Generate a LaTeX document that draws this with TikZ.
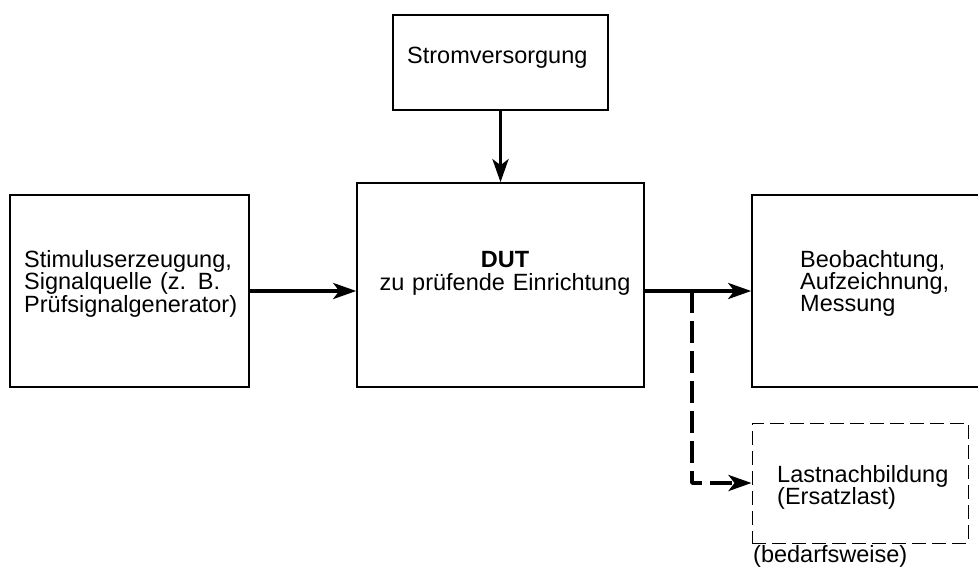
\documentclass[tikz,border=0pt]{standalone}
\usepackage{fontspec}
\setmainfont{Liberation Sans}
\usetikzlibrary{arrows.meta}
\begin{document}
\begin{tikzpicture}[x=1pt,y=-1pt,
  box/.style={draw, line width=1.6pt, rectangle, inner sep=0pt},
  dbox/.style={draw, line width=1pt, rectangle, inner sep=0pt, dash pattern=on 14pt off 6pt},
  lbl/.style={inner sep=0pt, font=\fontsize{23.5}{20.5}\selectfont},
  arr/.style={line width=3.6pt, -{Stealth[length=23pt,width=16pt,inset=6pt]}},
  darr/.style={arr, dash pattern=on 22pt off 8pt, line join=round}]
\useasboundingbox (0,0) rectangle (978,568);
\clip (0,0) rectangle (978,568);
% boxes
\node[box, minimum width=239pt, minimum height=192pt] (src) at (129.5,291) {};
\node[box, minimum width=287pt, minimum height=204pt] (dut) at (500.5,285) {};
\node[box, minimum width=258pt, minimum height=192pt] (obs) at (881,291) {};
\node[box, minimum width=215pt, minimum height=95pt] (strom) at (500.5,62.5) {};
\node[dbox, minimum width=216pt, minimum height=120pt] (load) at (860,483) {};
% texts
\node[lbl, anchor=base west, text width=230pt, align=left] (srct) at (24,267) {Stimuluserzeugung,\\Signalquelle (z. B.\\Prüfsignalgenerator)};
\node[lbl, anchor=base west, text width=170pt, align=left] (obst) at (800,267) {Beobachtung,\\Aufzeichnung,\\Messung};
\node[lbl, anchor=base west] (stromt) at (407,63) {Stromversorgung};
\node[lbl, anchor=base, text width=280pt, align=center, font=\fontsize{23.5}{23}\selectfont] (dutt) at (505,267) {\textbf{DUT}\\zu prüfende Einrichtung};
\node[lbl, anchor=base west, text width=180pt, align=left, font=\fontsize{23.5}{21}\selectfont] (loadt) at (777,482) {Lastnachbildung\\(Ersatzlast)};
\node[lbl, anchor=base west] (bed) at (753,562) {(bedarfsweise)};
% connectors
\draw[arr] (src.east) -- (src.east -| dut.west);
\draw[arr] (strom.south) -- (dut.north);
\draw[arr] (dut.east |- obs.west) -- (obs.west);
\coordinate (br) at (692,291);
\draw[darr] (br) -- (br |- load.west) -- (load.west);
\end{tikzpicture}
\end{document}
